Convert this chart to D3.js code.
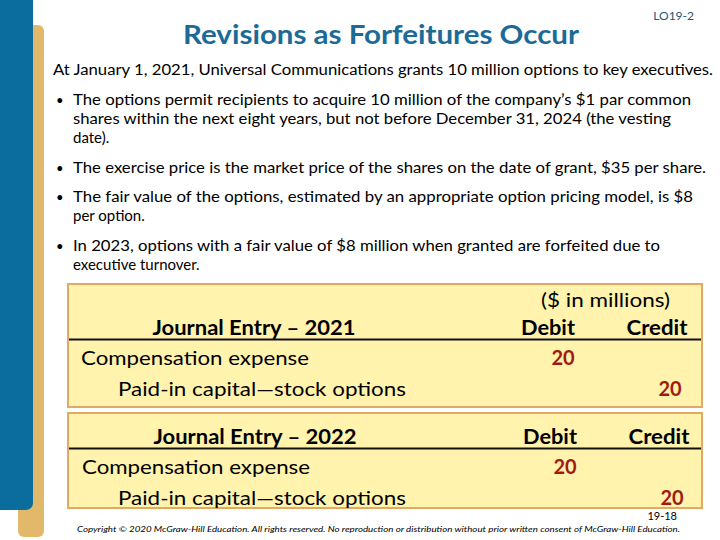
<!DOCTYPE html>
<html>
<head>
<meta charset="utf-8">
<script src="https://cdn.jsdelivr.net/npm/d3@7"></script>
<style>
  body { margin: 0; background: #fff; }
  svg { display: block; }
  text { font-family: Lato, "Open Sans", sans-serif; }
</style>
</head>
<body>
<svg id="slide" width="720" height="540"></svg>
<script>
// slide content
const title = "Revisions as Forfeitures Occur";
const slideTag = "LO19-2";
const intro = "At January 1, 2021, Universal Communications grants 10 million options to key executives.";
const bullets = [
    ["The options permit recipients to acquire 10 million of the company\u2019s $1 par common",
     "shares within the next eight years, but not before December 31, 2024 (the vesting",
     "date)."],
    ["The exercise price is the market price of the shares on the date of grant, $35 per share."],
    ["The fair value of the options, estimated by an appropriate option pricing model, is $8",
     "per option."],
    ["In 2023, options with a fair value of $8 million when granted are forfeited due to",
     "executive turnover."]
];
const bulletWidths = [[618, 598, 0], [633], [620, 0], [587, 0]];

// journal entries
const entryYears = ["2021", "2022"];
const debitAccounts = ["Compensation expense", "Compensation expense"];
const creditAccounts = ["Paid-in capital\u2014stock options", "Paid-in capital\u2014stock options"];
const debitValues = [20, 20];
const creditValues = [20, 20];

const pageNo = "19-18";
const copyright = "Copyright \u00a9 2020 McGraw-Hill Education. All rights reserved. No reproduction or distribution without prior written consent of McGraw-Hill Education.";

const svg = d3.select("#slide");

function fit(sel, w) {
    if (w > 0) sel.attr("textLength", w).attr("lengthAdjust", "spacingAndGlyphs");
    return sel;
}

// side decoration
svg.append("rect").attr("x", 18).attr("y", 25).attr("width", 26).attr("height", 512)
    .attr("rx", 6).attr("fill", "#E2B86A");
svg.append("rect").attr("x", -10).attr("y", -10).attr("width", 43).attr("height", 520)
    .attr("rx", 7).attr("fill", "#0B6D9D");

// title
fit(svg.append("text").attr("x", 183).attr("y", 44)
    .attr("font-size", 27).attr("font-weight", "bold").attr("fill", "#1B6B96")
    .text(title), 396);
svg.append("text").attr("x", 694).attr("y", 20).attr("text-anchor", "end")
    .attr("font-size", 12).attr("fill", "#1E5874").text(slideTag);

// body text
fit(svg.append("text").attr("x", 53).attr("y", 75).attr("font-size", 15.5).attr("fill", "#000")
    .text(intro), 660);

const bulletTops = [100, 168, 197, 246];
const lineGap = 18.8;
bullets.forEach(function (lines, i) {
    svg.append("text").attr("x", 56).attr("y", bulletTops[i] + 5)
        .attr("font-size", 13).text("\u2022");
    lines.forEach(function (ln, j) {
        fit(svg.append("text").attr("x", 73).attr("y", bulletTops[i] + 5 + j * lineGap)
            .attr("font-size", 15).text(ln), bulletWidths[i][j]);
    });
});

// journal entry boxes
const boxY = d3.scaleOrdinal().domain(entryYears).range([284, 413]);
const boxH = d3.scaleOrdinal().domain(entryYears).range([123, 95]);
const col = d3.scalePoint().domain(["debit", "credit"]).range([548, 657]);
const numCol = d3.scalePoint().domain(["debit", "credit"]).range([563, 670]);

entryYears.forEach(function (yr, i) {
    const y0 = boxY(yr);
    const first = i === 0;
    const headY = first ? y0 + 51 : y0 + 31;
    const g = svg.append("g");

    g.append("rect").attr("x", 68).attr("y", y0).attr("width", 634).attr("height", boxH(yr))
        .attr("fill", "#FFF3AE").attr("stroke", "#E2A865").attr("stroke-width", 2);

    if (first) {
        fit(g.append("text").attr("x", 541).attr("y", y0 + 23).attr("font-size", 20)
            .text("($ in millions)"), 129);
    }
    fit(g.append("text").attr("x", 254 + i).attr("y", headY).attr("text-anchor", "middle")
        .attr("font-size", 20).attr("font-weight", "bold")
        .text("Journal Entry \u2013 " + yr), 203);
    fit(g.append("text").attr("x", col("debit") + i * 2).attr("y", headY).attr("text-anchor", "middle")
        .attr("font-size", 20).attr("font-weight", "bold").text("Debit"), 54);
    fit(g.append("text").attr("x", col("credit") + i * 2).attr("y", headY).attr("text-anchor", "middle")
        .attr("font-size", 20).attr("font-weight", "bold").text("Credit"), 61);

    // rule under the column headings
    g.append("path")
        .attr("d", "M69," + (headY + 4.5) + "H701")
        .attr("stroke", "#111").attr("stroke-width", 2).attr("fill", "none");

    fit(g.append("text").attr("x", 81 + i).attr("y", headY + 29.5).attr("font-size", 20)
        .text(debitAccounts[i]), 228);
    fit(g.append("text").attr("x", 118).attr("y", headY + 60.5).attr("font-size", 20)
        .text(creditAccounts[i]), 288);

    g.append("text").attr("x", numCol("debit") + i * 2).attr("y", headY + 29.5)
        .attr("text-anchor", "middle").attr("font-size", 20).attr("font-weight", "bold")
        .attr("fill", "#A01A12").text(debitValues[i]);
    g.append("text").attr("x", numCol("credit") + i * 2).attr("y", headY + 60.5)
        .attr("text-anchor", "middle").attr("font-size", 20).attr("font-weight", "bold")
        .attr("fill", "#A01A12").text(creditValues[i]);
});

// footer
svg.append("text").attr("x", 677).attr("y", 520).attr("text-anchor", "end")
    .attr("font-size", 11).attr("font-family", "'Liberation Sans Narrow', Arial, sans-serif")
    .text(pageNo);
fit(svg.append("text").attr("x", 77).attr("y", 532).attr("font-size", 8)
    .attr("font-style", "italic").text(copyright), 603);
</script>
</body>
</html>
